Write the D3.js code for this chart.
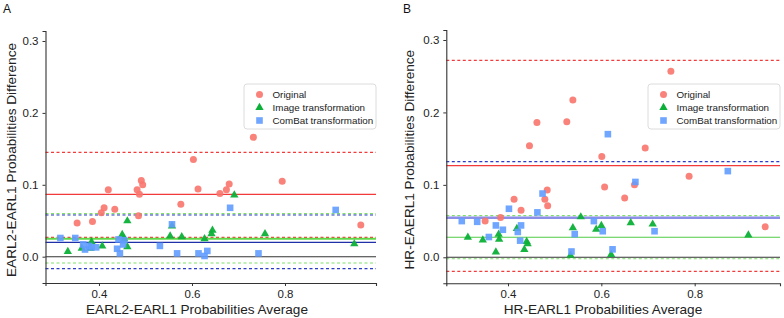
<!DOCTYPE html>
<html>
<head>
<meta charset="utf-8">
<script src="https://cdn.jsdelivr.net/npm/d3@7"></script>
<style>
  html, body { margin: 0; padding: 0; background: #fff; }
  svg { display: block; font-family: "Liberation Sans", Arial, Helvetica, sans-serif; }
</style>
</head>
<body>
<svg id="chart" width="784" height="318"></svg>
<script>
// ---- data ----------------------------------------------------------------
const groups = ['Original', 'Image transformation', 'ComBat transformation'];
const xTicks = [0.4, 0.6, 0.8];
const yTicks = [0.0, 0.1, 0.2, 0.3];

// panel A: EARL2 vs EARL1, [average, difference]
const aOriginal = [
  [0.353, 0.047], [0.386, 0.049], [0.405, 0.061], [0.411, 0.068], [0.420, 0.093],
  [0.434, 0.066], [0.482, 0.093], [0.487, 0.087], [0.485, 0.057], [0.491, 0.106],
  [0.494, 0.100], [0.576, 0.073], [0.603, 0.135], [0.613, 0.094], [0.660, 0.088],
  [0.674, 0.093], [0.680, 0.101], [0.732, 0.166], [0.794, 0.105], [0.963, 0.044]
];
const aImage = [
  [0.333, 0.0065], [0.363, 0.011], [0.381, 0.011], [0.384, 0.020], [0.407, 0.014],
  [0.450, 0.030], [0.454, 0.024], [0.461, 0.049], [0.461, 0.013], [0.553, 0.028],
  [0.557, 0.042], [0.578, 0.027], [0.627, 0.024], [0.642, 0.031], [0.644, 0.036],
  [0.691, 0.085], [0.757, 0.031], [0.949, 0.017]
];
const aCombat = [
  [0.317, 0.026], [0.349, 0.026], [0.366, 0.017], [0.370, 0.010], [0.379, 0.015],
  [0.384, 0.013], [0.394, 0.013], [0.439, 0.011], [0.442, 0.024], [0.445, 0.0046],
  [0.452, 0.017], [0.454, 0.023], [0.531, 0.015], [0.557, 0.045], [0.568, 0.0046],
  [0.614, 0.0046], [0.627, 0.001], [0.633, 0.008], [0.682, 0.068], [0.743, 0.0046],
  [0.909, 0.065]
];
// bias and limits of agreement
const aOriginalLoA = { mean: 0.0867, lower: 0.0269, upper: 0.145 };
const aImageLoA = { mean: 0.025, lower: -0.0088, upper: 0.060 };
const aCombatLoA = { mean: 0.020, lower: -0.0167, upper: 0.058 };

// panel B: HR vs EARL1
const bOriginal = [
  [0.351, 0.050], [0.384, 0.055], [0.413, 0.080], [0.428, 0.065], [0.446, 0.154],
  [0.462, 0.186], [0.479, 0.080], [0.484, 0.093], [0.485, 0.071], [0.526, 0.187],
  [0.539, 0.217], [0.601, 0.139], [0.607, 0.097], [0.650, 0.082], [0.671, 0.100],
  [0.694, 0.151], [0.749, 0.257], [0.788, 0.112], [0.951, 0.042]
];
const bImage = [
  [0.314, 0.027], [0.346, 0.023], [0.374, 0.0064], [0.380, 0.031], [0.381, 0.024],
  [0.419, 0.039], [0.435, 0.010], [0.440, 0.021], [0.442, 0.018], [0.534, 0.002],
  [0.539, 0.040], [0.556, 0.055], [0.589, 0.038], [0.600, 0.043], [0.621, 0.003],
  [0.663, 0.047], [0.710, 0.045], [0.915, 0.030]
];
const bCombat = [
  [0.301, 0.050], [0.334, 0.049], [0.359, 0.028], [0.374, 0.044], [0.389, 0.038],
  [0.402, 0.067], [0.421, 0.035], [0.426, 0.023], [0.428, 0.044], [0.463, 0.062],
  [0.474, 0.088], [0.536, 0.008], [0.543, 0.032], [0.584, 0.050], [0.603, 0.036],
  [0.614, 0.170], [0.624, 0.011], [0.673, 0.104], [0.714, 0.036], [0.871, 0.119]
];
const bOriginalLoA = { mean: 0.1265, lower: -0.0193, upper: 0.272 };
const bImageLoA = { mean: 0.0276, lower: -0.002, upper: 0.0575 };
const bCombatLoA = { mean: 0.0547, lower: null, upper: 0.132 };

// ---- layout / styles ------------------------------------------------------
const PANELS = [
  {
    tag: 'A', tagX: 3,
    left: 45.5, right: 376, top: 31, bottom: 283,
    xDomain: [0.285, 0.9957], yDomain: [-0.0366, 0.3139],
    xTitle: 'EARL2-EARL1 Probabilities Average', xTitleX: 197,
    yTitle: 'EARL2-EARL1 Probabilities Difference', yTitleX: 15.5,
    series: [aOriginal, aImage, aCombat],
    loa: [aOriginalLoA, aImageLoA, aCombatLoA],
    lineCol: ['#f23a3a', '#5fd84a', '#1f2fa8'],
    meanW: [1.1, 2, 1.2]
  },
  {
    tag: 'B', tagX: 403,
    left: 446.3, right: 780, top: 30, bottom: 283.3,
    xDomain: [0.2678, 0.9828], yDomain: [-0.0359, 0.3138],
    xTitle: 'HR-EARL1 Probabilities Average', xTitleX: 603,
    yTitle: 'HR-EAERL1 Probabilities Difference', yTitleX: 413.5,
    series: [bOriginal, bImage, bCombat],
    loa: [bOriginalLoA, bImageLoA, bCombatLoA],
    lineCol: ['#f23a3a', '#4fcc45', '#3444d8'],
    meanW: [1.1, 1.1, 2.4]
  }
];
const POINT_COL = ['#F8766D', '#0CB038', '#619CFF'];
const DASH_COL = ['#f43b3b', '#7ee06a', '#2b3bc8'];
const MEAN_COL_B_COMBAT = '#8c8ee8';

const svg = d3.select('#chart');

PANELS.forEach(p => drawPanel(p));

function drawPanel(p) {
  const x = d3.scaleLinear().domain(p.xDomain).range([p.left, p.right]);
  const y = d3.scaleLinear().domain(p.yDomain).range([p.bottom, p.top]);
  const g = svg.append('g');

  // reference lines: zero, then limits of agreement and bias
  g.append('line')
    .attr('x1', p.left).attr('x2', p.right)
    .attr('y1', y(0)).attr('y2', y(0))
    .attr('stroke', '#333').attr('stroke-width', 1.1);

  p.loa.forEach((l, i) => {
    [l.upper, l.lower].forEach(v => {
      if (v == null) return;
      g.append('line')
        .attr('x1', p.left).attr('x2', p.right)
        .attr('y1', y(v)).attr('y2', y(v))
        .attr('stroke', DASH_COL[i])
        .attr('stroke-width', 1.2)
        .attr('stroke-dasharray', '3,2.5');
    });
  });
  p.loa.forEach((l, i) => {
    const col = (p.tag === 'B' && i === 2) ? MEAN_COL_B_COMBAT : p.lineCol[i];
    g.append('line')
      .attr('x1', p.left).attr('x2', p.right)
      .attr('y1', y(l.mean)).attr('y2', y(l.mean))
      .attr('stroke', col)
      .attr('stroke-width', p.meanW[i]);
  });

  // points
  const [orig, img, comb] = p.series;
  g.append('g').selectAll('circle').data(orig).join('circle')
    .attr('cx', d => x(d[0])).attr('cy', d => y(d[1]))
    .attr('r', 3.5)
    .attr('fill', POINT_COL[0]).attr('opacity', 0.9);

  const tri = d3.symbol().type(d3.symbolTriangle).size(30);
  g.append('g').selectAll('path').data(img).join('path')
    .attr('d', tri)
    .attr('transform', d => `translate(${x(d[0])},${y(d[1]) - 0.5})`)
    .attr('fill', POINT_COL[1]).attr('opacity', 0.95);

  g.append('g').selectAll('rect').data(comb).join('rect')
    .attr('x', d => x(d[0]) - 3.3).attr('y', d => y(d[1]) - 3.3)
    .attr('width', 6.6).attr('height', 6.6)
    .attr('fill', POINT_COL[2]).attr('opacity', 0.9);

  // axes
  g.append('g')
    .attr('transform', `translate(${p.left},0)`)
    .call(d3.axisLeft(y).tickValues(yTicks).tickFormat(d3.format('.1f')).tickSizeOuter(0).tickSize(3).tickPadding(4))
    .call(a => a.select('.domain').attr('stroke', '#333').attr('stroke-width', 1.1))
    .call(a => a.selectAll('.tick line').attr('stroke', '#333'))
    .call(a => a.selectAll('text').attr('fill', '#222').style('font-size', '11.5px'));

  g.append('g')
    .attr('transform', `translate(0,${p.bottom})`)
    .call(d3.axisBottom(x).tickValues(xTicks).tickFormat(d3.format('.1f')).tickSizeOuter(0).tickSize(3).tickPadding(4))
    .call(a => a.select('.domain').attr('stroke', '#333').attr('stroke-width', 1.1))
    .call(a => a.selectAll('.tick line').attr('stroke', '#333'))
    .call(a => a.selectAll('text').attr('fill', '#222').style('font-size', '11.5px'));

  // titles
  g.append('text')
    .attr('x', p.xTitleX).attr('y', 314)
    .attr('text-anchor', 'middle')
    .attr('fill', '#222')
    .style('font-size', '13.6px')
    .text(p.xTitle);

  g.append('text')
    .attr('transform', `translate(${p.yTitleX},${(p.top + p.bottom) / 2 + 3}) rotate(-90)`)
    .attr('text-anchor', 'middle')
    .attr('fill', '#222')
    .style('font-size', '13.6px')
    .text(p.yTitle);

  g.append('text')
    .attr('x', p.tagX).attr('y', 13)
    .attr('fill', '#111')
    .style('font-size', '12px')
    .text(p.tag);

  // legend
  const lw = 132, lh = 45;
  const lg = g.append('g').attr('transform', `translate(${p.right - lw},84)`);
  lg.append('rect')
    .attr('width', lw).attr('height', lh).attr('rx', 3)
    .attr('fill', '#fff').attr('stroke', '#dcdcdc');
  groups.forEach((name, i) => {
    const row = lg.append('g').attr('transform', `translate(15.5,${10.5 + i * 13})`);
    if (i === 0) row.append('circle').attr('r', 3.5).attr('fill', POINT_COL[0]).attr('opacity', 0.9);
    if (i === 1) row.append('path').attr('d', tri).attr('fill', POINT_COL[1]);
    if (i === 2) row.append('rect').attr('x', -3.3).attr('y', -3.3).attr('width', 6.6).attr('height', 6.6)
      .attr('fill', POINT_COL[2]).attr('opacity', 0.9);
    row.append('text')
      .attr('x', 13).attr('y', 3.5)
      .attr('fill', '#222')
      .style('font-size', '9.8px')
      .text(name);
  });
}
</script>
</body>
</html>
